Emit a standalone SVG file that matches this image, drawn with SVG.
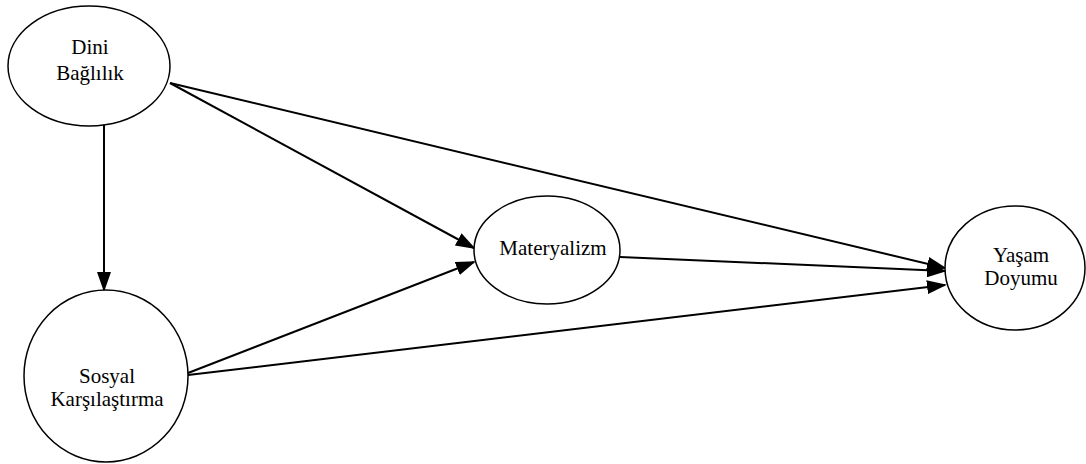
<svg xmlns="http://www.w3.org/2000/svg" width="1086" height="464" viewBox="0 0 1086 464">
<style>
.n{fill:#fff;stroke:#000;stroke-width:1.5}
.t{font-family:"Liberation Serif","Times New Roman",serif;font-size:21px;fill:#000;text-anchor:middle}
.c{stroke:#000;stroke-width:2;fill:none;marker-end:url(#ah)}
</style>
<defs>
<marker id="ah" markerWidth="10" markerHeight="7" refX="9" refY="3.5" orient="auto" markerUnits="strokeWidth">
<path d="M0,0 L10,3.5 L0,7 Z" fill="#000"/>
</marker>
</defs>
<rect width="1086" height="464" fill="#fff"/>
<g id="connectors">
<line class="c" x1="104" y1="116" x2="104" y2="290"/>
<line class="c" x1="170" y1="83" x2="474" y2="248"/>
<line class="c" x1="170" y1="83" x2="945" y2="268"/>
<line class="c" x1="188" y1="373" x2="474" y2="262"/>
<line class="c" x1="620" y1="257" x2="945" y2="271"/>
<line class="c" x1="188" y1="375" x2="945" y2="285"/>
</g>
<g id="dini">
<ellipse class="n" cx="89" cy="66" rx="81" ry="60"/>
<text class="t" x="90" y="54">Dini</text>
<text class="t" x="90" y="80">Bağlılık</text>
</g>
<g id="sosyal">
<ellipse class="n" cx="106" cy="376" rx="82" ry="86"/>
<text class="t" x="107" y="383">Sosyal</text>
<text class="t" x="107" y="406">Karşılaştırma</text>
</g>
<g id="materyalizm">
<ellipse class="n" cx="547" cy="250" rx="73" ry="54"/>
<text class="t" x="553" y="255">Materyalizm</text>
</g>
<g id="yasam">
<ellipse class="n" cx="1015" cy="268" rx="70" ry="62"/>
<text class="t" x="1021" y="262">Yaşam</text>
<text class="t" x="1021" y="285">Doyumu</text>
</g>
</svg>
